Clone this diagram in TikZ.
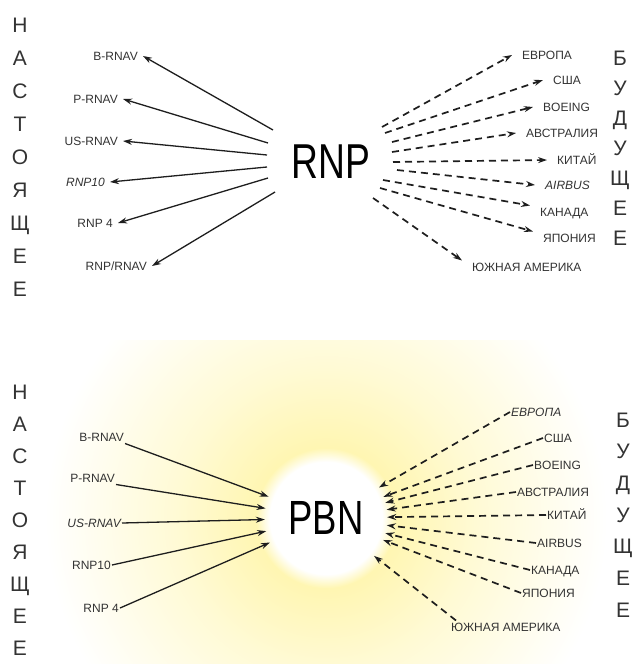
\documentclass[tikz,border=0pt]{standalone}
\usepackage{fontspec}
\setmainfont{Liberation Sans}
\usetikzlibrary{arrows.meta}
\definecolor{ink}{HTML}{1E1E1E}
\definecolor{txt}{HTML}{333333}
\definecolor{glowy}{RGB}{255,246,178}
\pgfdeclareradialshading{pbnglow}{\pgfpoint{0bp}{0bp}}{color(0bp)=(white); color(56bp)=(white); color(70bp)=(glowy); color(150bp)=(glowy!55!white); color(280bp)=(white); color(300bp)=(white)}
\tikzset{
  lbl/.style={font=\fontsize{12}{12}\selectfont, text=txt, inner ysep=2pt, text height=8.6pt, text depth=0pt},
  lblR/.style={lbl, anchor=west, inner xsep=10pt},
  lblL/.style={lbl, anchor=east, inner xsep=5pt},
  vlet/.style={text=txt, align=center, inner sep=0pt},
  big/.style={text=black, inner sep=0pt},
  solidarr/.style={draw=ink, line width=1.3pt, -{Stealth[length=9pt,width=6pt]}},
  dasharr/.style={draw=ink, line width=1.7pt, dash pattern=on 7pt off 5pt, -{Stealth[length=9pt,width=6pt]}},
}
\begin{document}
\begin{tikzpicture}[x=1pt,y=-1pt]
\useasboundingbox (0,0) rectangle (636,664);
\fill[white] (0,0) rectangle (636,664);
% glow behind PBN
\begin{scope}
  \clip (0,340) rectangle (636,664);
  \node[inner sep=0pt] (glow) at (326,518) {\pgfuseshading{pbnglow}};
\end{scope}

% ---------- top panel ----------
\node[vlet, font=\fontsize{21}{33}\selectfont] (nast1) at (20,157) {Н\\А\\С\\Т\\О\\Я\\Щ\\Е\\Е};
\node[vlet, font=\fontsize{21}{30}\selectfont] (bud1) at (620,148) {Б\\У\\Д\\У\\Щ\\Е\\Е};

\node[big] (rnp) at (331,162) {\scalebox{0.76}[1]{\fontsize{49}{49}\selectfont RNP}};

\coordinate (s1) at (273,130);
\coordinate (s2) at (268,143);
\coordinate (s3) at (267,155);
\coordinate (s4) at (267,167);
\coordinate (s5) at (268,178);
\coordinate (s6) at (275,192);

\node[lblL] (a1) at (143,56) {B-RNAV};
\node[lblL] (a2) at (123,99) {P-RNAV};
\node[lblL] (a3) at (123,141) {US-RNAV};
\node[lblL] (a4) at (110,182) {\itshape RNP10};
\node[lblL] (a5) at (118,223) {RNP 4};
\node[lblL] (a6) at (152,266) {RNP/RNAV};

\foreach \i in {1,...,6} \draw[solidarr] (s\i) -- (a\i.east);

\coordinate (t1) at (382,127);
\coordinate (t2) at (385,133);
\coordinate (t3) at (392,142);
\coordinate (t4) at (392,152);
\coordinate (t5) at (393,162);
\coordinate (t6) at (397,170);
\coordinate (t7) at (383,180);
\coordinate (t8) at (380,188);
\coordinate (t9) at (373,198);

\node[lblR] (b1) at (512,55) {ЕВРОПА};
\node[lblR] (b2) at (543,80) {США};
\node[lblR] (b3) at (533,107) {BOEING};
\node[lblR] (b4) at (516,133) {АВСТРАЛИЯ};
\node[lblR] (b5) at (547,160) {КИТАЙ};
\node[lblR] (b6) at (535,185) {\itshape AIRBUS};
\node[lblR] (b7) at (530,212) {КАНАДА};
\node[lblR] (b8) at (533,238) {ЯПОНИЯ};
\node[lblR] (b9) at (462,267) {ЮЖНАЯ АМЕРИКА};

\foreach \i in {1,...,6} \draw[dasharr] (t\i) -- (b\i.west);
\foreach \i in {7,8,9} \draw[dasharr] (t\i) -- (b\i.north west);

% ---------- bottom panel ----------
\node[vlet, font=\fontsize{21}{32}\selectfont] (nast2) at (20,520) {Н\\А\\С\\Т\\О\\Я\\Щ\\Е\\Е};
\node[vlet, font=\fontsize{21}{31.7}\selectfont] (bud2) at (623,515) {Б\\У\\Д\\У\\Щ\\Е\\Е};

\node[circle, minimum size=122pt, inner sep=0pt] (pbn) at (326,518) {\raisebox{-2pt}{\scalebox{0.76}[1]{\fontsize{48}{48}\selectfont PBN}}};

\node[lbl, anchor=east, inner xsep=1pt] (c1) at (125,437) {B-RNAV};
\node[lbl, anchor=east, inner xsep=1pt] (c2) at (116,478) {P-RNAV};
\node[lbl, anchor=east, inner xsep=1pt] (c3) at (122,523) {\itshape US-RNAV};
\node[lbl, anchor=east, inner xsep=1pt] (c4) at (112,565) {RNP10};
\node[lbl, anchor=east, inner xsep=1pt] (c5) at (120,608) {RNP 4};

\draw[solidarr] (c1.south east) -- (pbn);
\draw[solidarr] (c2.south east) -- (pbn);
\foreach \i in {3,4,5} \draw[solidarr] (c\i.east) -- (pbn);

\node[lbl, anchor=west, inner xsep=1pt] (d1) at (510,412) {\itshape ЕВРОПА};
\node[lbl, anchor=west, inner xsep=1pt] (d2) at (543,438) {США};
\node[lbl, anchor=west, inner xsep=1pt] (d3) at (533,465) {BOEING};
\node[lbl, anchor=west, inner xsep=1pt] (d4) at (516,492) {АВСТРАЛИЯ};
\node[lbl, anchor=west, inner xsep=1pt] (d5) at (546,515) {КИТАЙ};
\node[lbl, anchor=west, inner xsep=1pt] (d6) at (536,543) {AIRBUS};
\node[lbl, anchor=west, inner xsep=1pt] (d7) at (530,570) {КАНАДА};
\node[lbl, anchor=west, inner xsep=1pt] (d8) at (521,593) {ЯПОНИЯ};
\node[lbl, anchor=west, inner xsep=1pt] (d9) at (450,627) {ЮЖНАЯ АМЕРИКА};

\foreach \i in {1,...,8} \draw[dasharr] (d\i.west) -- (pbn);
\draw[dasharr] ([xshift=6pt]d9.north west) -- (pbn);
\end{tikzpicture}
\end{document}
